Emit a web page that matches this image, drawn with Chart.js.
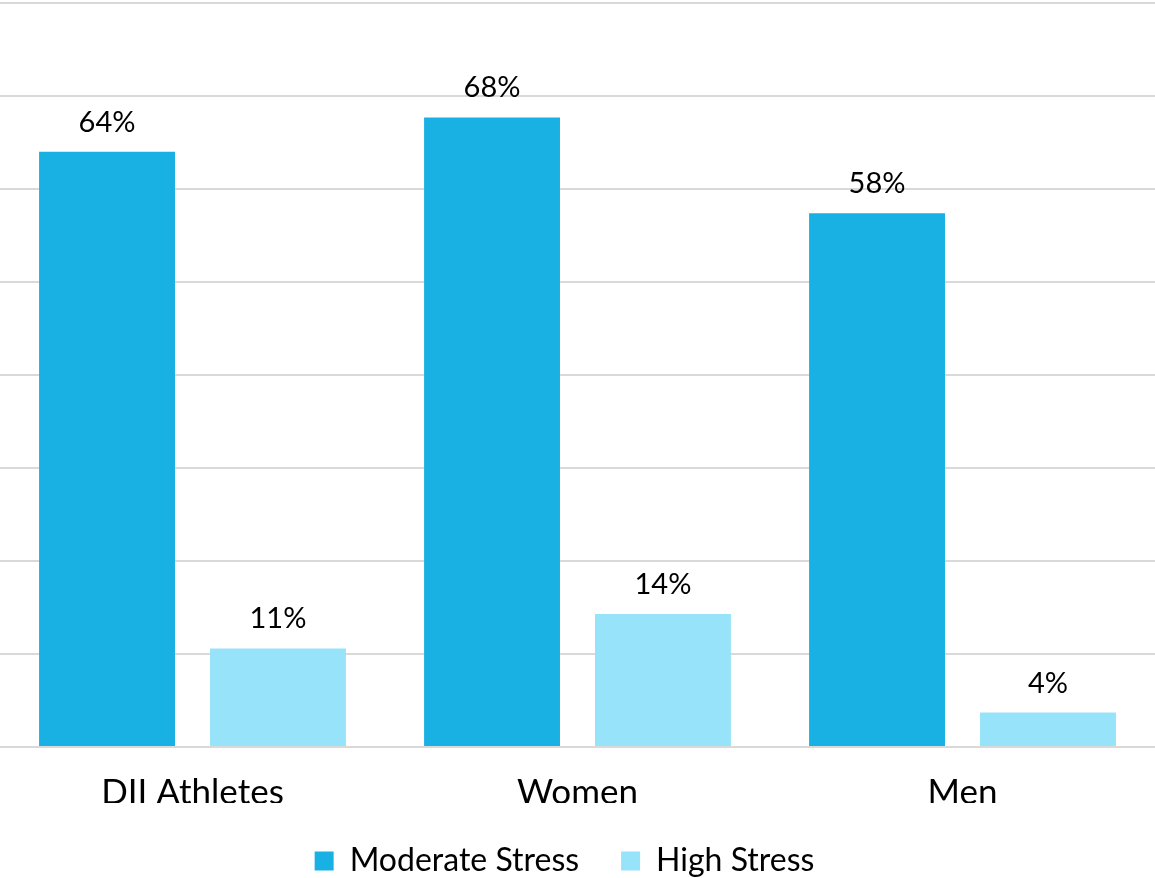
<!DOCTYPE html>
<html>
<head>
<meta charset="utf-8">
<script src="https://cdn.jsdelivr.net/npm/chart.js@4/dist/chart.umd.min.js"></script>
<style>
html,body{margin:0;padding:0;background:#fff;}
#wrap{width:1155px;height:878px;position:relative;}
</style>
</head>
<body>
<div id="wrap"><canvas id="c"></canvas></div>
<script>
const categories = ["DII Athletes", "Women", "Men"];
const moderateStress = [64, 67.7, 57.4];
const highStress = [10.6, 14.3, 3.7];
const moderateLabels = ["64%", "68%", "58%"];
const highLabels = ["11%", "14%", "4%"];
const seriesNames = ["Moderate Stress", "High Stress"];

const FONT = "Lato, 'Open Sans', sans-serif";

const valueLabels = {
  id: 'valueLabels',
  afterDatasetsDraw(chart) {
    const ctx = chart.ctx;
    const labelSets = [moderateLabels, highLabels];
    ctx.save();
    ctx.font = "29px " + FONT;
    ctx.fillStyle = "#000";
    ctx.textAlign = "center";
    ctx.textBaseline = "alphabetic";
    chart.data.datasets.forEach((ds, i) => {
      const meta = chart.getDatasetMeta(i);
      meta.data.forEach((bar, j) => {
        ctx.fillText(labelSets[i][j], bar.x, bar.y - 20);
      });
    });
    ctx.restore();
  }
};

const legendShift = {
  id: 'legendShift',
  afterLayout(chart) {
    if (chart.legend) {
      chart.legend.left -= 13;
      chart.legend.right -= 13;
    }
  }
};

new Chart(document.getElementById('c'), {
  type: 'bar',
  data: {
    labels: categories,
    datasets: [
      { label: seriesNames[0], data: moderateStress, backgroundColor: '#19B0E3', borderWidth: 0 },
      { label: seriesNames[1], data: highStress, backgroundColor: '#97E3F9', borderWidth: 0 }
    ]
  },
  options: {
    responsive: true,
    maintainAspectRatio: false,
    animation: false,
    categoryPercentage: 0.888,
    barPercentage: 0.795,
    layout: { padding: { top: 3, left: 0, right: 0, bottom: 0 } },
    plugins: {
      tooltip: { enabled: false },
      legend: {
        position: 'bottom',
        maxHeight: 75,
        labels: {
          boxWidth: 19,
          boxHeight: 19,
          padding: 42,
          color: '#000',
          font: { family: FONT, size: 32 }
        }
      }
    },
    scales: {
      x: {
        grid: { display: false, drawTicks: true, tickLength: 35 },
        border: { display: false },
        ticks: { color: '#000', font: { family: FONT, size: 35, lineHeight: 0.4 }, padding: 3.5 }
      },
      y: {
        min: 0, max: 80,
        ticks: { display: false, stepSize: 10 },
        border: { display: false },
        grid: { color: '#D9D9D9', lineWidth: 2, drawTicks: false }
      }
    }
  },
  plugins: [valueLabels, legendShift]
});
</script>
</body>
</html>
